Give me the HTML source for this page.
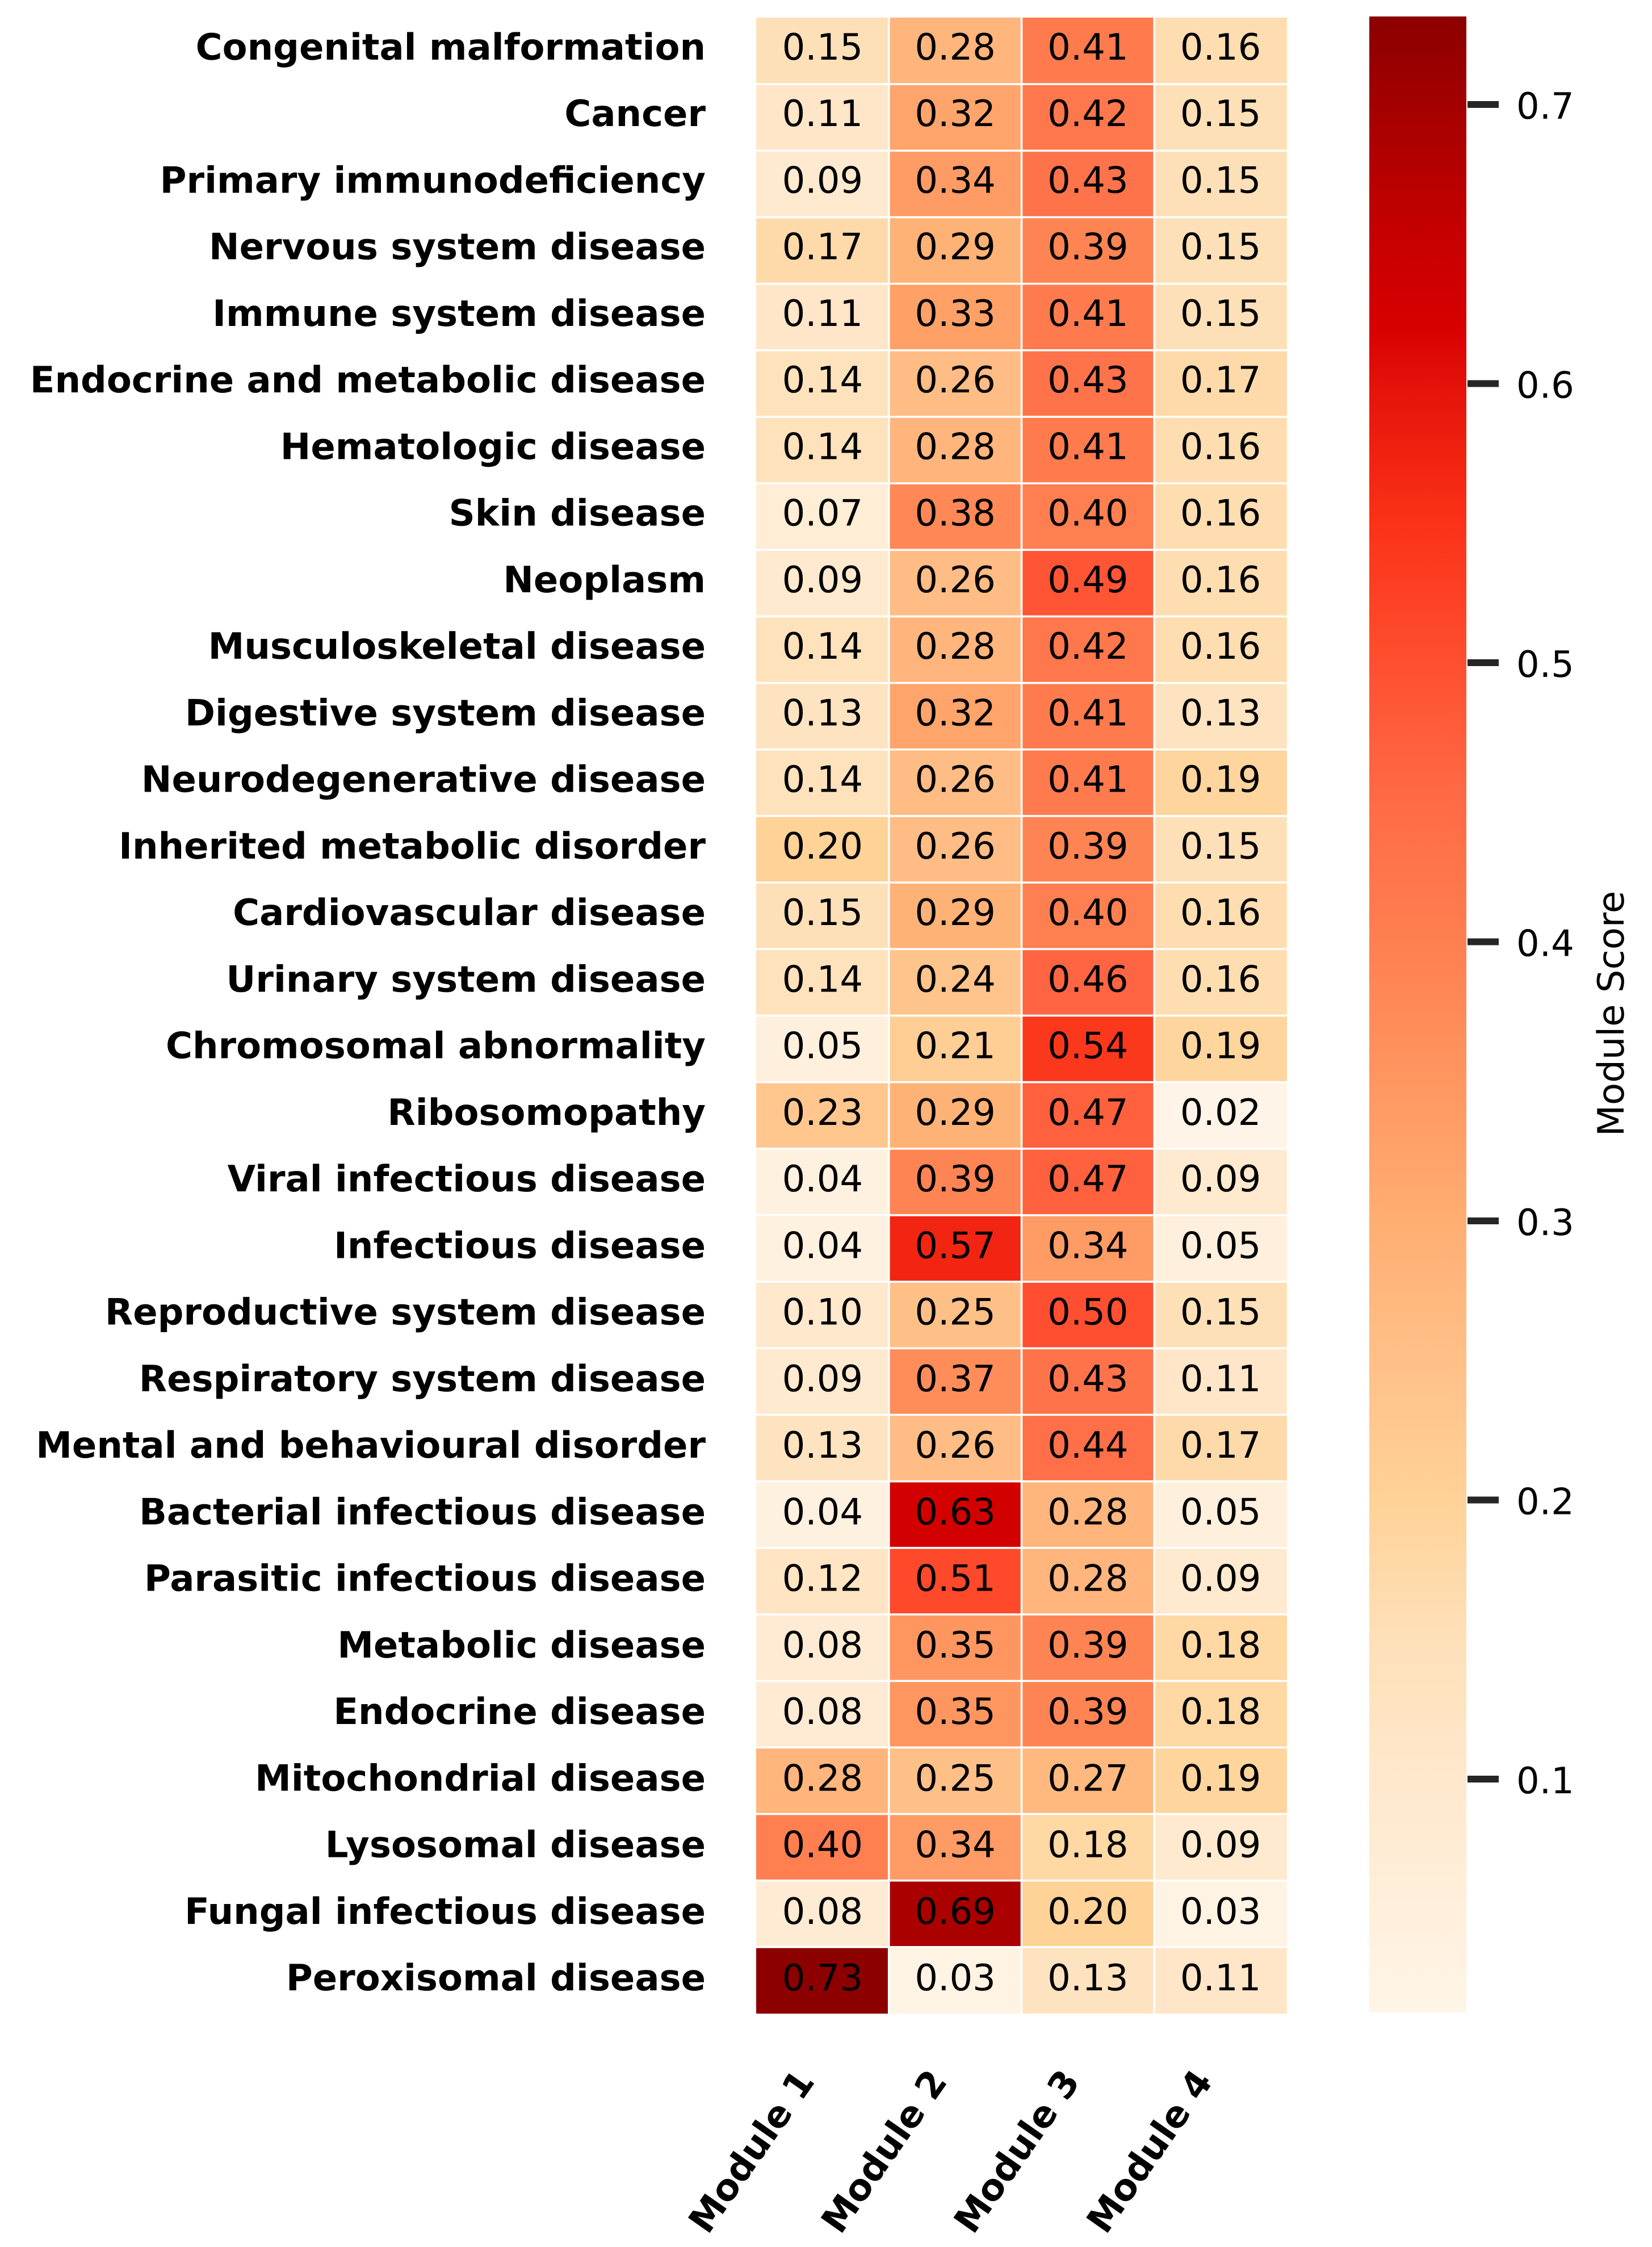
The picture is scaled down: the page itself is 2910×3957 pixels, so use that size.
<!DOCTYPE html>
<html lang="en">
<head>
<meta charset="utf-8">
<title>Module Score Heatmap</title>
<style>
html,body{margin:0;padding:0;background:#fff;width:2910px;height:3957px;overflow:hidden}
svg{display:block}
text{font-family:"DejaVu Sans","Liberation Sans",sans-serif;fill:#000;text-rendering:geometricPrecision}
.row{font-size:64px;font-weight:700;text-anchor:end}
.col{font-size:64px;font-weight:700;text-anchor:middle}
.cell{font-size:64px;text-anchor:middle}
.tick{font-size:64px}
.title{font-size:64px;text-anchor:middle}
</style>
</head>
<body>
<svg id="chart" xmlns="http://www.w3.org/2000/svg" width="2910" height="3957" viewBox="0 0 2910 3957">
<defs><linearGradient id="bar-gradient" x1="0" y1="1" x2="0" y2="0"></linearGradient></defs>
<rect width="2910" height="3957" fill="#fff"></rect>
<g id="cells"></g>
<g id="rows"></g>
<g id="cols"></g>
<g id="cbar"></g>
</svg>
<script>
const categories = ["Congenital malformation","Cancer","Primary immunodeficiency","Nervous system disease","Immune system disease","Endocrine and metabolic disease","Hematologic disease","Skin disease","Neoplasm","Musculoskeletal disease","Digestive system disease","Neurodegenerative disease","Inherited metabolic disorder","Cardiovascular disease","Urinary system disease","Chromosomal abnormality","Ribosomopathy","Viral infectious disease","Infectious disease","Reproductive system disease","Respiratory system disease","Mental and behavioural disorder","Bacterial infectious disease","Parasitic infectious disease","Metabolic disease","Endocrine disease","Mitochondrial disease","Lysosomal disease","Fungal infectious disease","Peroxisomal disease"];
const modules = ["Module 1","Module 2","Module 3","Module 4"];
const module1 = [0.15,0.11,0.09,0.17,0.11,0.14,0.14,0.07,0.09,0.14,0.13,0.14,0.20,0.15,0.14,0.05,0.23,0.04,0.04,0.10,0.09,0.13,0.04,0.12,0.08,0.08,0.28,0.40,0.08,0.73];
const module2 = [0.28,0.32,0.34,0.29,0.33,0.26,0.28,0.38,0.26,0.28,0.32,0.26,0.26,0.29,0.24,0.21,0.29,0.39,0.57,0.25,0.37,0.26,0.63,0.51,0.35,0.35,0.25,0.34,0.69,0.03];
const module3 = [0.41,0.42,0.43,0.39,0.41,0.43,0.41,0.40,0.49,0.42,0.41,0.41,0.39,0.40,0.46,0.54,0.47,0.47,0.34,0.50,0.43,0.44,0.28,0.28,0.39,0.39,0.27,0.18,0.20,0.13];
const module4 = [0.16,0.15,0.15,0.15,0.15,0.17,0.16,0.16,0.16,0.16,0.13,0.19,0.15,0.16,0.16,0.19,0.02,0.09,0.05,0.15,0.11,0.17,0.05,0.09,0.18,0.18,0.19,0.09,0.03,0.11];
const seriesValues = [module1, module2, module3, module4];
const colorbarTicks = [0.1,0.2,0.3,0.4,0.5,0.6,0.7];
const colorbarTitle = "Module Score";
const colorDomain = [0.0164,0.1,0.15,0.2,0.25,0.3,0.35,0.4,0.45,0.5,0.55,0.6,0.62,0.65,0.7,0.7315];
const colorRange = ["#fff5e8","#ffe8cc","#fee0b8","#ffd297","#ffc088","#ffae72","#ff9660","#ff7f50","#ff6b46","#ff4f30","#fb3217","#e4120a","#d80000","#c80000","#a40000","#8b0000"];

const NS = "http://www.w3.org/2000/svg";
const plot = {left:1332, right:2267, top:31, bottom:3546, gap:3.6};
const bar = {left:2412, right:2583, top:29, bottom:3544, y07:184, y01:3133};
const rowStep = (plot.bottom - plot.top) / categories.length;
const colStep = (plot.right - plot.left) / modules.length;
function xScale(c){ return plot.left + c * colStep; }
function yScale(r){ return plot.top + r * rowStep; }
function baselineScale(r){ return 105 + r * (3505 - 105) / (categories.length - 1); }
function barScale(v){ return bar.y01 + (v - 0.1) * (bar.y07 - bar.y01) / 0.6; }
function hex(c){ return [1,3,5].map(i => parseInt(c.substr(i,2),16)); }
function colorScale(v){
  const d = colorDomain, n = d.length;
  if (v <= d[0]) return colorRange[0];
  if (v >= d[n-1]) return colorRange[n-1];
  let i = 0;
  while (v > d[i+1]) i++;
  const t = (v - d[i]) / (d[i+1] - d[i]);
  const a = hex(colorRange[i]), b = hex(colorRange[i+1]);
  return "rgb(" + a.map((x,k) => Math.round(x + (b[k]-x)*t)).join(",") + ")";
}
function make(tag, attrs, parent, content){
  const el = document.createElementNS(NS, tag);
  for (const k in attrs) el.setAttribute(k, attrs[k]);
  if (content !== undefined) el.textContent = content;
  parent.appendChild(el);
  return el;
}
const gCells = document.getElementById("cells");
const gRows = document.getElementById("rows");
const gCols = document.getElementById("cols");
const gBar = document.getElementById("cbar");

seriesValues.forEach((values, c) => {
  values.forEach((v, r) => {
    const cell = make("rect", {x:xScale(c)+(c?plot.gap/2:0), y:yScale(r)+(r?plot.gap/2:0), width:colStep-(c?plot.gap/2:0)-(c<modules.length-1?plot.gap/2:0), height:rowStep-(r?plot.gap/2:0)-(r<categories.length-1?plot.gap/2:0), fill:colorScale(v)}, gCells);
    
    
    const label = make("text", {class:"cell", x:xScale(c)+colStep/2, y:baselineScale(r)}, gCells, v.toFixed(2));
    
    
  });
});

categories.forEach((name, r) => {
  const label = make("text", {class:"row", x:1243, y:baselineScale(r)}, gRows, name);
  
  
});

modules.forEach((name, c) => {
  const cx = xScale(c) + colStep/2 - 126;
  const label = make("text", {class:"col", x:0, y:23, transform:"translate("+cx+",3788) rotate(-55)"}, gCols, name);
  
  
});

const grad = document.getElementById("bar-gradient");
const vMin = colorDomain[0], vMax = colorDomain[colorDomain.length-1];
colorDomain.forEach((v, i) => {
  make("stop", {offset:(v-vMin)/(vMax-vMin), "stop-color":colorRange[i]}, grad);
});
const barRect = make("rect", {x:bar.left, y:bar.top, width:bar.right-bar.left, height:bar.bottom-bar.top, fill:"url(#bar-gradient)"}, gBar);



colorbarTicks.forEach(v => {
  const y = barScale(v);
  const tick = make("rect", {x:2585, y:y-6, width:55, height:12, fill:"#262626"}, gBar);
  
  
  const label = make("text", {class:"tick", x:2671, y:y+25}, gBar, v.toFixed(1));
  
  
});

const title = make("text", {class:"title", x:0, y:0, transform:"translate(2860,1785) rotate(-90)"}, gBar, colorbarTitle);


</script>
</body>
</html>
